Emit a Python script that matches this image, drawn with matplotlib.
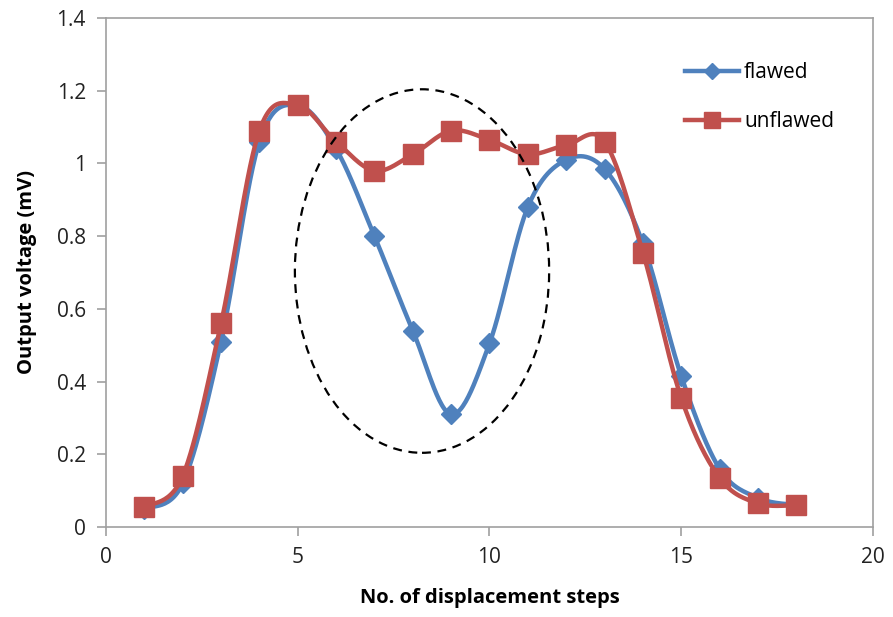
import numpy as np
import matplotlib
matplotlib.use("Agg")
import matplotlib.pyplot as plt
from matplotlib.patches import Ellipse
from matplotlib.lines import Line2D

steps = list(range(1, 19))
flawed = [0.05, 0.12, 0.51, 1.06, 1.16, 1.04, 0.80, 0.54, 0.31,
          0.505, 0.88, 1.01, 0.985, 0.78, 0.415, 0.16, 0.08, 0.06]
unflawed = [0.055, 0.14, 0.56, 1.09, 1.16, 1.06, 0.98, 1.025, 1.09,
            1.065, 1.025, 1.05, 1.06, 0.755, 0.355, 0.135, 0.065, 0.06]

blue = "#4F81BD"
red = "#C0504D"
grey = "#A0A0A0"

plt.rcParams['font.family'] = ['Open Sans', 'DejaVu Sans']


def smooth(xs, ys, n=30):
    # bezier smoothing like the spreadsheet "smoothed line"
    p = np.column_stack([xs, ys]).astype(float)
    p = np.vstack([p[0], p, p[-1]])
    out = []
    t = np.linspace(0, 1, n)[:, None]
    for i in range(1, len(p) - 2):
        p0, p3 = p[i], p[i + 1]
        c1 = p0 + (p[i + 1] - p[i - 1]) / 6
        c2 = p3 - (p[i + 2] - p[i]) / 6
        seg = (1 - t) ** 3 * p0 + 3 * (1 - t) ** 2 * t * c1 + 3 * (1 - t) * t ** 2 * c2 + t ** 3 * p3
        out.append(seg)
    out = np.vstack(out)
    return out[:, 0], out[:, 1]


fig = plt.figure(figsize=(8.93, 6.17), dpi=100)
ax = fig.add_axes([0.1187, 0.1459, 0.8589, 0.8249])

sx, sy = smooth(steps, flawed)
ax.plot(sx, sy, color=blue, lw=3.2, solid_capstyle='round', zorder=3)
ax.plot(steps, flawed, 'D', color=blue, ms=10, zorder=4)

sx, sy = smooth(steps, unflawed)
ax.plot(sx, sy, color=red, lw=3.2, solid_capstyle='round', zorder=5)
ax.plot(steps, unflawed, 's', color=red, ms=14, zorder=6)

ax.add_patch(Ellipse((8.24, 0.704), 6.63, 1.0, fill=False, ls=(0, (4, 3)),
                     lw=1.6, color='black', zorder=7))

ax.set_xlim(0, 20)
ax.set_ylim(0, 1.4)
ax.set_xticks([0, 5, 10, 15, 20])
ax.set_yticks([0, 0.2, 0.4, 0.6, 0.8, 1, 1.2, 1.4])
ax.set_yticklabels(['0', '0.2', '0.4', '0.6', '0.8', '1', '1.2', '1.4'])
for s in ax.spines.values():
    s.set_color(grey)
    s.set_linewidth(1.2)
ax.tick_params(direction='out', length=6.5, width=1.2, color=grey,
               labelsize=15, labelcolor='#222222', pad=8)

ax.set_xlabel('No. of displacement steps', fontsize=14.5, fontweight='bold', labelpad=14)
ax.set_ylabel('Output voltage (mV)', fontsize=14.5, fontweight='bold', labelpad=14)

handles = [Line2D([], [], color=blue, lw=3.2, marker='D', ms=8),
           Line2D([], [], color=red, lw=3.2, marker='s', ms=11)]
ax.legend(handles, ['flawed', 'unflawed'], loc='upper left',
          bbox_to_anchor=(0.73, 0.95), frameon=False, fontsize=15,
          handlelength=2.6, handletextpad=0.25, labelspacing=1.35)

fig.savefig('out.png', dpi=100)
